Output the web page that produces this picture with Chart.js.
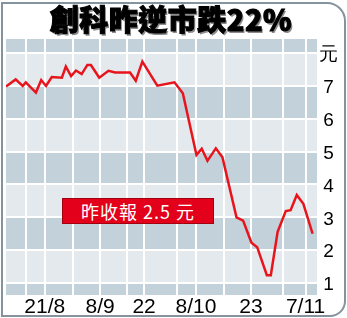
<!DOCTYPE html>
<html>
<head>
<meta charset="utf-8">
<script src="https://cdn.jsdelivr.net/npm/chart.js@4/dist/chart.umd.min.js"></script>
<style>
  html, body { margin: 0; padding: 0; background: #fff; }
  #wrap { position: relative; width: 347px; height: 318px; overflow: hidden; }
  #frame {
    position: absolute; left: 1px; top: 2px; width: 345px; height: 315px;
    box-sizing: border-box; border: 2px solid #84939d;
    border-radius: 0 19px 16px 0; pointer-events: none;
  }
  #title {
    position: absolute; left: 0; top: 1px; width: 342px; text-align: center;
    font-family: "Noto Sans CJK TC", "Noto Sans CJK SC", sans-serif;
    font-weight: 900; font-size: 29px; line-height: 34px; color: #000;
    letter-spacing: 0.5px;
    -webkit-text-stroke: 1px #000;
    text-shadow: 1.5px 1.5px 0 #8c8c8c, 0 0 1px #999;
    white-space: nowrap;
  }
  #note {
    position: absolute; left: 62px; top: 198px; width: 152px; height: 26px;
    box-sizing: border-box; background: #e2001a; border: 1px solid #a3000f;
    color: #fff; text-align: center;
    font-family: "Noto Sans CJK TC", sans-serif; font-size: 18px; line-height: 24px;
    letter-spacing: 1px; white-space: nowrap;
  }
  canvas { position: absolute; left: 0; top: 0; }
</style>
</head>
<body>
<div id="wrap">
  <canvas id="c" width="347" height="318"></canvas>
  <div id="title">創科昨逆市跌22%</div>
  <div id="note">昨收報 2.5 元</div>
  <div id="frame"></div>
</div>
<script>
// ---- data ----
const dayPos = [0,2.2,3.8,4.5,6.8,8.0,9.1,10.4,12.7,13.6,14.8,15.9,17.2,18.5,19.3,21.2,23.3,24.8,28.2,29.5,31.0,34.4,38.3,40.2,43.3,44.5,45.8,47.7,49.2,52.4,53.9,55.8,57.1,59.3,60.2,61.75,63.6,64.7,66.1,67.6,68.5,69.7];
const prices = [6.98,7.20,7.00,7.11,6.80,7.18,7.00,7.27,7.25,7.59,7.30,7.47,7.36,7.64,7.64,7.25,7.46,7.41,7.41,7.16,7.74,7.01,7.11,6.78,4.90,5.09,4.72,5.10,4.83,3.00,2.90,2.23,2.09,1.24,1.24,2.56,3.19,3.22,3.68,3.41,3.02,2.50];
const gridDays = [4.6,8.8,15.2,21.4,27.5,31.4,38.9,43.2,49.5,55.7,63.0,68.1];
const labelDays = [8.8,21.4,31.4,43.2,55.7,68.1];
const labelTexts = ['21/8','8/9','22','8/10','23','7/11'];
const yTicks = [1,2,3,4,5,6,7,8];
const yTickLabels = ['1','2','3','4','5','6','7','元'];
const darkBands = [[0,1],[2,3],[4,5],[6,7],[8,9]];

const bandPlugin = {
  id: 'bands',
  beforeDraw(chart) {
    const {ctx, chartArea: a, scales: {y}} = chart;
    ctx.save();
    ctx.fillStyle = '#e3e9ed';
    ctx.fillRect(a.left, a.top, a.right - a.left, a.bottom - a.top);
    ctx.fillStyle = '#c2d1da';
    darkBands.forEach(([lo, hi]) => {
      const y1 = Math.max(a.top, Math.min(a.bottom, y.getPixelForValue(hi)));
      const y2 = Math.max(a.top, Math.min(a.bottom, y.getPixelForValue(lo)));
      if (y2 > y1) ctx.fillRect(a.left, y1, a.right - a.left, y2 - y1);
    });
    ctx.restore();
  }
};

new Chart(document.getElementById('c'), {
  type: 'line',
  data: {
    datasets: [{
      data: dayPos.map((d, i) => ({x: d, y: prices[i]})),
      borderColor: '#e8141c',
      borderWidth: 2.5,
      pointRadius: 0,
      tension: 0,
      fill: false
    }]
  },
  options: {
    responsive: false,
    animation: false,
    devicePixelRatio: 1,
    layout: { padding: { left: 6, top: 39, right: 6, bottom: 0 } },
    plugins: { legend: { display: false }, tooltip: { enabled: false } },
    scales: {
      x: {
        type: 'linear', min: 0, max: 70.7,
        afterBuildTicks(s) { s.ticks = gridDays.map(v => ({value: v})); },
        afterFit(s) { s.height = 23; },
        grid: { color: '#ffffff', lineWidth: 2, drawTicks: false },
        border: { display: false },
        ticks: {
          autoSkip: false, maxRotation: 0, padding: 0, color: '#000',
          font: { family: '"Liberation Sans", Arial, sans-serif', size: 21 },
          callback(v) { const i = labelDays.indexOf(v); return i >= 0 ? labelTexts[i] : ''; }
        }
      },
      y: {
        position: 'right', min: 0.635, max: 8.43,
        afterBuildTicks(s) { s.ticks = yTicks.map(v => ({value: v})); },
        afterFit(s) { s.width = 24; },
        grid: { color: '#ffffff', lineWidth: 2, drawTicks: false },
        border: { display: false },
        ticks: {
          padding: 2, crossAlign: 'center', color: '#000', labelOffset: 2,
          font: { family: '"Liberation Sans", Arial, sans-serif', size: 19 },
          callback(v) { const i = yTicks.indexOf(v); return i >= 0 ? yTickLabels[i] : ''; }
        }
      }
    }
  },
  plugins: [bandPlugin]
});
</script>
</body>
</html>
